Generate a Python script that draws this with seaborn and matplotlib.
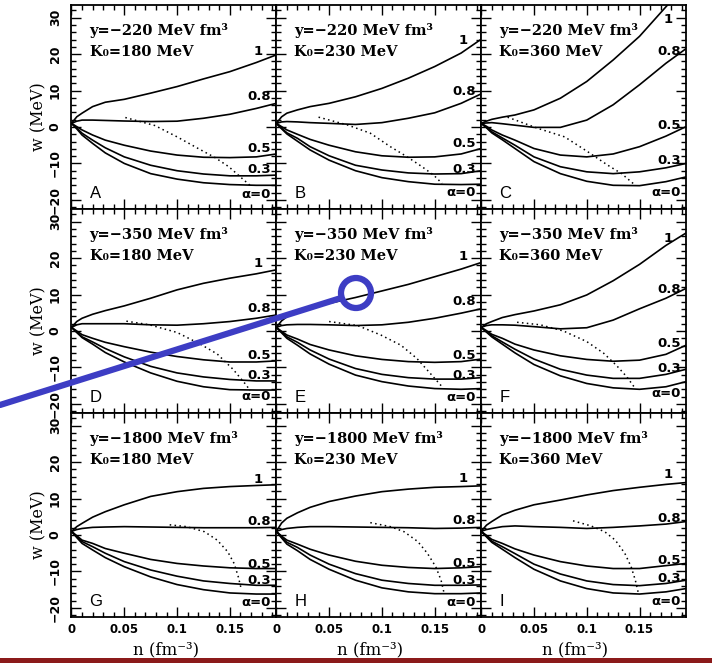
import pandas as pd
import matplotlib.pyplot as plt
import seaborn as sns
from matplotlib.patches import Circle, Rectangle
from matplotlib.lines import Line2D
from matplotlib.ticker import MultipleLocator, FuncFormatter

# density grid (fm^-3) shared by all solid curves
n = [0, 0.005, 0.01, 0.02, 0.032, 0.05, 0.075, 0.1, 0.125, 0.15, 0.175, 0.194]
alphas = ['α=0', '0.3', '0.5', '0.8', '1']
letters = ['A', 'B', 'C', 'D', 'E', 'F', 'G', 'H', 'I']
y_vals = [-220, -220, -220, -350, -350, -350, -1800, -1800, -1800]
k0_vals = [180, 230, 360, 180, 230, 360, 180, 230, 360]

# w (MeV) for alpha = 0, 0.3, 0.5, 0.8, 1
w_A = [[1, -0.5, -2.2, -4.5, -7.1, -10.0, -12.8, -14.3, -15.3, -15.8, -16.0, -16.0],
       [1, -0.3, -1.7, -3.6, -5.7, -8.2, -10.5, -12.0, -12.9, -13.4, -13.4, -13.2],
       [1, 0.1, -0.8, -2.2, -3.6, -5.0, -6.6, -7.7, -8.3, -8.4, -8.2, -7.4],
       [1, 1.6, 1.9, 1.9, 1.8, 1.65, 1.5, 1.6, 2.4, 3.5, 5.1, 6.5],
       [1, 2.8, 3.8, 5.6, 6.8, 7.6, 9.3, 11.1, 13.2, 15.2, 17.7, 19.8]]
w_B = [[1, -0.5, -1.9, -3.9, -6.3, -9.1, -12.0, -13.9, -15.0, -15.7, -15.8, -15.7],
       [1, -0.3, -1.6, -3.1, -5.4, -7.9, -10.5, -11.8, -12.6, -12.9, -12.8, -12.0],
       [1, 0.1, -0.8, -2.0, -3.4, -5.0, -6.8, -7.9, -8.3, -8.2, -7.4, -5.9],
       [1, 1.4, 1.5, 1.4, 1.2, 1.0, 0.7, 1.2, 2.4, 3.9, 6.5, 9.1],
       [1, 2.8, 3.8, 4.7, 5.6, 6.5, 8.3, 10.6, 13.4, 16.6, 20.3, 24.1]]
w_C = [[1, -0.2, -1.6, -3.5, -5.9, -9.5, -12.8, -14.9, -16.0, -16.1, -15.0, -13.7],
       [1, -0.1, -1.3, -3.0, -5.0, -8.2, -10.9, -12.3, -12.8, -12.3, -11.2, -10.0],
       [1, 0.2, -0.8, -2.2, -3.6, -5.9, -7.7, -8.2, -7.4, -5.4, -2.5, 0.1],
       [1, 1.1, 1.2, 0.9, 0.5, -0.1, -0.1, 1.9, 6.1, 11.6, 17.5, 21.5],
       [1, 1.6, 2.1, 2.7, 3.3, 4.7, 7.9, 12.5, 18.4, 24.9, 33.0, 39.0]]
w_D = [[1, -0.4, -1.8, -3.6, -5.9, -8.5, -11.5, -13.8, -15.3, -16.1, -16.2, -16.2],
       [1, -0.3, -1.6, -3.0, -4.8, -7.1, -9.7, -11.5, -12.6, -13.3, -13.7, -13.7],
       [1, 0.0, -1.0, -2.0, -3.1, -4.3, -5.8, -7.0, -7.9, -8.5, -8.5, -8.2],
       [1, 1.7, 2.0, 2.0, 2.0, 2.0, 1.7, 1.6, 2.0, 2.6, 3.5, 4.4],
       [1, 2.6, 3.5, 4.6, 5.6, 6.9, 9.0, 11.3, 13.1, 14.5, 15.7, 16.8]]
w_E = [[1, -0.5, -2.0, -3.9, -6.3, -9.1, -12.1, -13.9, -15.1, -15.8, -16.0, -15.8],
       [1, -0.3, -1.6, -3.1, -5.2, -7.7, -10.3, -11.9, -12.8, -13.2, -13.2, -12.8],
       [1, -0.1, -1.1, -2.2, -3.7, -5.2, -6.8, -7.8, -8.4, -8.6, -8.4, -7.7],
       [1, 1.5, 1.7, 1.8, 1.8, 1.7, 1.5, 1.7, 2.4, 3.5, 4.9, 6.1],
       [1, 2.8, 3.9, 5.3, 6.7, 7.6, 9.2, 11.0, 12.8, 14.9, 17.0, 18.8]]
w_F = [[1, -0.3, -1.6, -3.6, -6.0, -9.2, -12.3, -14.4, -15.6, -16.0, -15.3, -13.9],
       [1, -0.2, -1.3, -3.0, -5.0, -7.7, -10.5, -12.1, -13.0, -13.0, -11.9, -10.5],
       [1, 0.1, -0.9, -2.0, -3.6, -5.2, -6.8, -7.8, -8.3, -8.0, -6.4, -3.9],
       [1, 1.5, 1.7, 1.7, 1.6, 1.2, 0.6, 0.9, 3.0, 6.1, 9.0, 11.7],
       [1, 2.0, 2.6, 3.7, 4.5, 5.5, 7.2, 9.9, 13.8, 18.3, 23.5, 26.9]]
w_G = [[1, -0.7, -2.3, -4.1, -6.2, -8.7, -11.5, -13.6, -15.0, -15.9, -16.2, -16.2],
       [1, -0.4, -1.8, -3.2, -5.0, -7.3, -9.6, -11.3, -12.6, -13.3, -13.8, -13.8],
       [1, -0.2, -1.4, -2.3, -3.7, -5.0, -6.7, -7.8, -8.5, -9.0, -9.2, -9.2],
       [1, 1.5, 1.8, 2.1, 2.2, 2.3, 2.2, 2.1, 2.0, 2.0, 2.0, 2.1],
       [1, 2.3, 3.2, 4.9, 6.4, 8.3, 10.6, 11.9, 12.8, 13.3, 13.6, 13.8]]
w_H = [[1, -0.8, -2.5, -4.3, -6.7, -9.4, -12.4, -14.5, -15.6, -16.1, -16.1, -15.9],
       [1, -0.6, -2.0, -3.4, -5.5, -8.0, -10.6, -12.4, -13.3, -13.8, -13.8, -13.7],
       [1, -0.3, -1.4, -2.5, -3.9, -5.5, -7.2, -8.3, -8.9, -9.2, -9.0, -8.7],
       [1, 1.5, 1.8, 2.1, 2.3, 2.3, 2.2, 2.1, 2.0, 1.8, 1.9, 2.1],
       [1, 3.3, 4.6, 6.1, 7.6, 9.2, 10.7, 11.9, 12.6, 13.1, 13.3, 13.5]]
w_I = [[1, -0.5, -2.0, -3.9, -6.2, -9.4, -12.6, -14.7, -15.9, -16.2, -15.6, -14.7],
       [1, -0.3, -1.7, -3.2, -5.1, -8.0, -10.7, -12.6, -13.6, -13.9, -13.3, -12.4],
       [1, -0.1, -1.2, -2.3, -3.8, -5.5, -7.3, -8.5, -9.2, -9.2, -8.4, -7.8],
       [1, 1.5, 1.8, 2.3, 2.5, 2.3, 2.1, 1.8, 2.1, 2.5, 3.0, 3.7],
       [1, 2.7, 3.7, 5.5, 6.8, 8.3, 9.6, 11.0, 12.2, 13.1, 13.9, 14.4]]

# dotted curves
dot_A_n = [0.051, 0.079, 0.1, 0.12, 0.136, 0.149, 0.158, 0.169]
dot_A_w = [2.6, 0.4, -2.7, -5.9, -8.4, -10.9, -13.2, -16.0]
dot_B_n = [0.04, 0.067, 0.089, 0.108, 0.124, 0.138, 0.149, 0.157]
dot_B_w = [2.7, 0.6, -1.7, -5.4, -8.2, -10.9, -13.2, -15.5]
dot_C_n = [0.025, 0.054, 0.079, 0.101, 0.12, 0.133, 0.146]
dot_C_w = [2.7, -0.4, -2.7, -6.8, -10.5, -12.8, -16.0]
dot_D_n = [0.052, 0.074, 0.1, 0.122, 0.138, 0.153, 0.166, 0.169]
dot_D_w = [2.7, 1.7, -0.4, -3.6, -6.3, -10.5, -15.0, -16.4]
dot_E_n = [0.05, 0.077, 0.099, 0.118, 0.133, 0.146, 0.157]
dot_E_w = [2.6, 1.5, -1.1, -3.9, -7.5, -11.7, -15.3]
dot_F_n = [0.034, 0.056, 0.078, 0.1, 0.116, 0.128, 0.138, 0.146]
dot_F_w = [2.4, 1.7, 0.0, -2.9, -6.1, -9.4, -12.6, -15.8]
dot_G_n = [0.093, 0.109, 0.126, 0.138, 0.148, 0.154, 0.158, 0.161]
dot_G_w = [2.8, 2.3, 0.9, -1.4, -4.6, -7.8, -11.5, -15.1]
dot_H_n = [0.089, 0.108, 0.121, 0.134, 0.143, 0.151, 0.156, 0.159]
dot_H_w = [3.4, 2.3, 0.9, -1.8, -5.0, -8.7, -12.4, -16.1]
dot_I_n = [0.087, 0.104, 0.117, 0.127, 0.136, 0.142, 0.146, 0.149]
dot_I_w = [3.9, 2.5, 0.9, -1.4, -5.0, -8.7, -12.4, -16.1]

# heights of the curve labels (alpha = 0, 0.3, 0.5, 0.8, 1)
lab_A = [-18.5, -11.6, -5.9, 8.3, 20.7]
lab_B = [-18.1, -11.8, -4.5, 9.7, 23.8]
lab_C = [-18.1, -9.1, 0.3, 20.6, 29.4]
lab_D = [-17.9, -12.1, -6.6, 6.2, 18.6]
lab_E = [-18.3, -12.1, -6.6, 8.1, 20.5]
lab_F = [-17.2, -10.3, -3.4, 11.3, 25.5]
lab_G = [-18.4, -12.6, -8.0, 3.7, 15.3]
lab_H = [-18.6, -12.6, -7.8, 3.9, 15.6]
lab_I = [-18.3, -11.9, -6.9, 4.6, 16.5]

curves = [w_A, w_B, w_C, w_D, w_E, w_F, w_G, w_H, w_I]
dots = [(dot_A_n, dot_A_w), (dot_B_n, dot_B_w), (dot_C_n, dot_C_w),
        (dot_D_n, dot_D_w), (dot_E_n, dot_E_w), (dot_F_n, dot_F_w),
        (dot_G_n, dot_G_w), (dot_H_n, dot_H_w), (dot_I_n, dot_I_w)]
labels = [lab_A, lab_B, lab_C, lab_D, lab_E, lab_F, lab_G, lab_H, lab_I]

sns.set_style('ticks')
plt.rcParams['font.family'] = ['DejaVu Sans']
plt.rcParams['font.weight'] = 'bold'
plt.rcParams['axes.linewidth'] = 1.3
for key in ['text.color', 'axes.labelcolor', 'axes.edgecolor', 'xtick.color', 'ytick.color']:
    plt.rcParams[key] = 'black'

fig, axes = plt.subplots(3, 3, figsize=(7.12, 6.63), dpi=100, sharex=True, sharey=True)
fig.subplots_adjust(left=0.1004, right=0.9635, top=0.9925, bottom=0.0694,
                    wspace=0, hspace=0)

for i, ax in enumerate(axes.flat):
    rows = []
    for a, ws in zip(alphas, curves[i]):
        for x, w in zip(n, ws):
            rows.append({'n': x, 'w': w, 'alpha': a})
    df = pd.DataFrame(rows)
    sns.lineplot(data=df, x='n', y='w', units='alpha', estimator=None,
                 color='black', lw=1.2, ax=ax, legend=False)
    ax.plot(dots[i][0], dots[i][1], color='black', lw=1.1, ls=(0, (1, 2.2)))

    for a, ly in zip(alphas, labels[i]):
        lx = 0.181 if a == '1' else 0.189
        ax.text(lx, ly, a, ha='right', va='center', fontsize=9.5)

    ax.text(0.088, 0.877, f'y=−{abs(y_vals[i])} MeV fm³', transform=ax.transAxes,
            family='DejaVu Serif', fontsize=10.5, va='center')
    ax.text(0.088, 0.77, f'K₀={k0_vals[i]} MeV', transform=ax.transAxes,
            family='DejaVu Serif', fontsize=10.5, va='center')
    ax.text(0.088, 0.078, letters[i], transform=ax.transAxes, family='Liberation Sans',
            fontweight='normal', fontsize=12, va='center')

    ax.set_xlim(0, 0.194)
    ax.set_ylim(-22.5, 33.5)
    ax.xaxis.set_major_locator(MultipleLocator(0.05))
    ax.xaxis.set_minor_locator(MultipleLocator(0.01))
    ax.yaxis.set_major_locator(MultipleLocator(10))
    ax.yaxis.set_minor_locator(MultipleLocator(2))
    ax.xaxis.set_major_formatter(FuncFormatter(lambda v, p: f'{v:g}'))
    ax.tick_params(which='both', direction='in', top=True, right=True, width=1)
    ax.tick_params(which='major', length=7)
    ax.tick_params(which='minor', length=3.5)
    ax.tick_params(axis='x', pad=4, labelsize=8.5)
    ax.tick_params(axis='y', labelrotation=90, pad=7, labelsize=9)
    for lab in ax.get_yticklabels():
        lab.set_va('center')
    ax.set_xlabel('')
    ax.set_ylabel('')
    if i % 3 == 0:
        ax.set_ylabel('w (MeV)', family='DejaVu Serif', fontsize=11.5)
        ax.yaxis.set_label_coords(-0.12, 0.455)
    if i >= 6:
        ax.set_xlabel('n (fm⁻³)', family='DejaVu Serif', fontweight='normal', fontsize=12)
        ax.xaxis.set_label_coords(0.46, -0.118)

# blue pointer drawn over the figure
blue = '#3d3dc4'
fig.add_artist(Line2D([0, 341 / 712], [1 - 405 / 663, 1 - 298 / 663],
                      transform=fig.transFigure, color=blue, lw=4.5))
fig.add_artist(Circle((356, 663 - 293), 15, transform=None, fill=False,
                      edgecolor=blue, lw=4.5))
fig.add_artist(Rectangle((0, 0), 1, 5 / 663, transform=fig.transFigure,
                         color='#8b1a1a', lw=0))

plt.savefig('out.png', dpi=100)
